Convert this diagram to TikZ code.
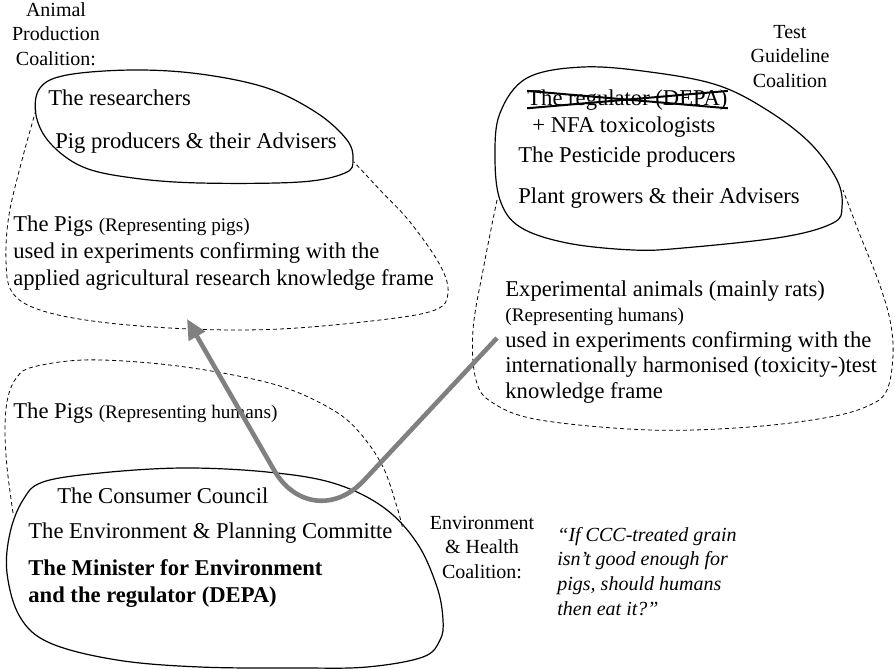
\documentclass[tikz,border=0pt]{standalone}
\usepackage{fontspec}
\setmainfont{Liberation Serif}
\usetikzlibrary{arrows.meta}

\newcommand\reprtext[1]{{\fontsize{9.6}{11}\selectfont #1}}

\begin{document}
\begin{tikzpicture}[x=0.5pt,y=-0.5pt]
  \tikzset{
    coalition/.style={line width=0.6pt},
    frame/.style={line width=0.4pt, dash pattern=on 2pt off 1.5pt},
    actor/.style={inner sep=0pt, anchor=base west, align=left, font=\fontsize{11.3}{13.5}\selectfont},
    tag/.style={inner sep=0pt, anchor=base, align=center, font=\fontsize{10}{12.2}\selectfont},
    claim/.style={inner sep=0pt, anchor=base west, align=left, font=\fontsize{10}{12.3}\selectfont\itshape},
    influence/.style={line width=2.3pt, gray, rounded corners=38pt, -{Triangle[length=10pt,width=9pt]}}
  }
  \useasboundingbox (0,0) rectangle (895,669);

  % Coalition labels (multi-line nodes sit on their last baseline)
  \node[tag] (apc) at (56,65) {Animal\\Production\\Coalition:};
  \node[tag] (tgc) at (790,87) {Test\\Guideline\\Coalition};
  \node[tag] (ehc) at (482,578) {Environment\\\& Health\\Coalition:};

  % Animal production coalition
  \draw[coalition] plot[smooth cycle, tension=0.6] coordinates {(40,88) (67,75) (133,70) (200,74) (267,88) (317,113) (347,140) (353,160) (345,173) (300,182) (200,183) (133,178) (83,167) (50,143) (36,115)};
  \draw[frame] plot[smooth, tension=0.6] coordinates {(36,110) (22,160) (9,215) (6,260) (12,292) (40,310) (100,322) (190,329) (280,329) (380,320) (435,310) (448,293) (440,265) (410,222) (380,190) (354,162)};
  \node[actor] (researchers) at (48,105) {The researchers};
  \node[actor] (pigProducers) at (55,148) {Pig producers \& their Advisers};
  \node[actor] (pigsForPigs) at (13,285) {The Pigs \reprtext{(Representing pigs)}\\used in experiments confirming with the\\applied agricultural research knowledge frame};

  % Test guideline coalition
  \draw[coalition] plot[smooth cycle, tension=0.6] coordinates {(527,78) (583,67) (650,72) (717,85) (767,110) (810,143) (837,180) (842,207) (833,223) (783,237) (683,248) (633,250) (567,243) (520,227) (500,200) (495,157) (500,113)};
  \draw[frame] plot[smooth, tension=0.6] coordinates {(497,200) (484,265) (473,330) (476,380) (493,403) (540,420) (650,430) (750,427) (830,417) (870,405) (887,390) (893,355) (890,320) (878,280) (860,235) (843,190)};
  \node[actor] (regulator) at (527,105) {The regulator (DEPA)};
  \draw[line width=1pt] ([yshift=-1pt]regulator.north west) -- ([yshift=1pt]regulator.south east);
  \draw[line width=1pt] ([yshift=1pt]regulator.south west) -- ([yshift=-1pt]regulator.north east);
  \node[actor] (nfa) at (532,132) {+ NFA toxicologists};
  \node[actor] (pesticide) at (518,162) {The Pesticide producers};
  \node[actor] (plantGrowers) at (518,203) {Plant growers \& their Advisers};
  \node[actor, font=\fontsize{11.3}{12.7}\selectfont] (rats) at (505,398) {Experimental animals (mainly rats)\\\reprtext{(Representing humans)}\\used in experiments confirming with the\\internationally harmonised (toxicity-)test\\knowledge frame};

  % Environment and health coalition
  \draw[frame] plot[smooth, tension=0.6] coordinates {(13,513) (7,467) (5,427) (8,397) (17,377) (33,367) (83,360) (150,363) (217,372) (283,387) (333,410) (360,433) (383,467) (397,507) (403,530)};
  \draw[coalition] plot[smooth cycle, tension=0.6] coordinates {(43,482) (100,473) (183,468) (267,472) (333,483) (383,507) (417,543) (437,587) (443,620) (440,640) (423,657) (367,667) (300,668) (200,667) (117,660) (50,643) (20,617) (7,573) (10,533) (23,500)};
  \node[actor] (pigsForHumans) at (13,418) {The Pigs \reprtext{(Representing humans)}};
  \node[actor] (consumers) at (57,503) {The Consumer Council};
  \node[actor] (committee) at (28,538) {The Environment \& Planning Committe};
  \node[actor] (minister) at (28,602) {\textbf{The Minister for Environment}\\\textbf{and the regulator (DEPA)}};
  \node[claim] (quote) at (557,615) {“If CCC-treated grain\\isn’t good enough for\\pigs, should humans\\then eat it?”};

  % Pigs taken as stand-ins for humans
  \coordinate (ratsSide) at (497,338);
  \coordinate (turn) at (312,536);
  \coordinate (pigsSide) at (187,319);
  \draw[influence] (ratsSide) -- (turn) -- (pigsSide);
\end{tikzpicture}
\end{document}
